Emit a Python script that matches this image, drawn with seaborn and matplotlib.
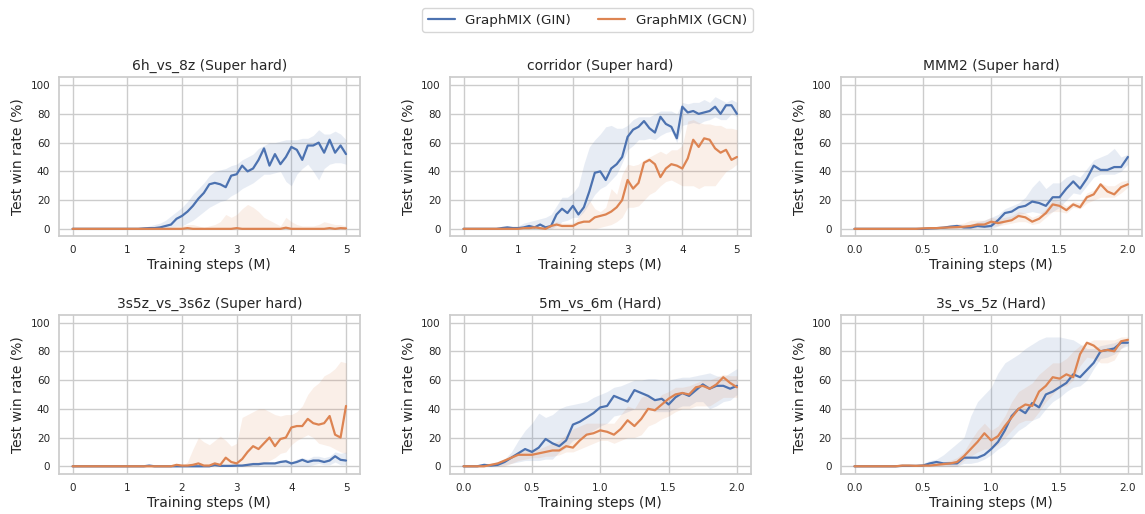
import numpy as np
import pandas as pd
import matplotlib
matplotlib.use("Agg")
import matplotlib.pyplot as plt
from matplotlib.lines import Line2D
import seaborn as sns

# ---------------- data ----------------
methods = ["GraphMIX (GIN)", "GraphMIX (GCN)"]
titles = ["6h_vs_8z (Super hard)", "corridor (Super hard)", "MMM2 (Super hard)",
          "3s5z_vs_3s6z (Super hard)", "5m_vs_6m (Hard)", "3s_vs_5z (Hard)"]

steps_5m = np.round(np.arange(0, 51) * 0.1, 2)   # 0 .. 5 M, every 0.1 M
steps_2m = np.round(np.arange(0, 41) * 0.05, 2)  # 0 .. 2 M, every 0.05 M

# 6h_vs_8z
p1_gin = [0, 0, 0, 0, 0, 0, 0, 0, 0, 0, 0, 0, 0,
          0.3, 0.5, 0.5, 1, 2, 3, 7, 9, 12, 16, 21, 25, 31, 32, 31, 29, 37, 38, 44, 40, 42, 48,
          56, 44, 52, 45, 50, 57, 55, 48, 58, 58, 60, 53, 62, 53, 58, 52]
p1_gin_lo = [0, 0, 0, 0, 0, 0, 0, 0, 0, 0, 0, 0, 0,
             0, 0, 0, 0, 0.5, 1, 2, 2, 4, 6, 9, 12, 15, 17, 19, 20, 23, 25, 28, 30, 32, 35,
             38, 38, 39, 40, 33, 30, 38, 42, 45, 40, 34, 42, 45, 46, 46, 45]
p1_gin_hi = [0, 0, 0, 0, 0, 0, 0, 0, 0, 0, 0, 0, 0,
             1, 2, 3, 4, 6, 9, 12, 15, 19, 24, 28, 32, 37, 40, 41, 42, 44, 45, 48, 50, 52, 56,
             58, 60, 60, 61, 62, 62, 62, 63, 63, 65, 69, 66, 66, 68, 66, 62]
p1_gcn = [0, 0, 0, 0, 0, 0, 0, 0, 0, 0, 0, 0, 0, 0, 0, 0, 0, 0, 0, 0, 0,
          0.5, 0, 0, 0, 0, 0, 0, 0, 0, 0.5, 0, 0, 0, 0, 0, 0, 0, 0, 0.8,
          0, 0, 0, 0, 0, 0, 0, 0.5, 0, 0.5, 0.3]
p1_gcn_lo = [0, 0, 0, 0, 0, 0, 0, 0, 0, 0, 0, 0, 0, 0, 0, 0, 0, 0, 0, 0, 0,
             0, 0, 0, 0, 0, 0, 0, 0, 0, 0, 0, 0, 0, 0, 0, 0, 0, 0, 0,
             0, 0, 0, 0, 0, 0, 0, 0, 0, 0, 0]
p1_gcn_hi = [0, 0, 0, 0, 0, 0, 0, 0, 0, 0, 0, 0, 0, 0, 0, 0,
             0.5, 1, 1, 2, 2, 3, 3, 2, 1, 2, 3, 5, 10, 8, 10, 14, 17, 15, 12, 8, 6, 4, 2, 8,
             5, 3, 2, 2, 2, 3, 5, 4, 3, 3, 2]

# corridor
p2_gin = [0, 0, 0, 0, 0, 0, 0,
          0.5, 1, 0.5, 0.5, 1, 2, 1, 3, 1, 2, 10, 14, 11, 16, 10, 15, 26, 39, 40, 34,
          42, 45, 50, 64, 69, 71, 75, 70, 67, 78, 73, 71, 63, 85, 81, 82, 80, 81, 82, 85,
          80, 86, 86, 80]
p2_gin_lo = [0, 0, 0, 0, 0, 0, 0, 0, 0, 0, 0, 0, 0, 0, 0, 0, 0,
             2, 5, 6, 8, 8, 12, 18, 24, 28, 30, 34, 38, 46, 55, 58, 62, 62, 63, 62, 65,
             67, 68, 60, 72, 73, 74, 73, 75, 76, 78, 76, 76, 80, 78]
p2_gin_hi = [0, 0, 0, 0, 0, 0, 0,
             2, 2, 2, 2, 4, 5, 6, 7, 8, 10, 16, 22, 22, 25, 30, 45, 57, 62, 66, 71,
             72, 70, 70, 72, 76, 78, 78, 78, 80, 82, 82, 82, 80, 88, 87, 88, 88, 90, 88, 92,
             90, 88, 90, 88]
p2_gcn = [0, 0, 0, 0, 0, 0, 0, 0, 0, 0, 0,
          0.5, 0.5, 1, 0.5, 0, 2, 3, 2, 2, 2, 4, 5, 5, 8, 9, 10, 12, 15, 20, 34,
          28, 32, 46, 48, 45, 36, 42, 45, 44, 42, 49, 62, 57, 63, 62, 56, 53, 55, 48, 50]
p2_gcn_lo = [0, 0, 0, 0, 0, 0, 0, 0, 0, 0, 0, 0, 0, 0, 0, 0, 0, 0, 0, 0, 0, 0, 0, 0, 0,
             1, 2, 3, 5, 8, 15, 15, 16, 20, 24, 26, 30, 33, 34, 32, 30, 30, 30, 28, 30,
             30, 30, 35, 40, 42, 45]
p2_gcn_hi = [0, 0, 0, 0, 0, 0, 0, 0, 0, 0, 0, 1, 1, 2, 1, 1,
             3, 5, 4, 4, 4, 8, 14, 20, 14, 12, 15, 28, 24, 38, 45, 44, 45, 48, 50, 52,
             54, 52, 55, 55, 58, 75, 76, 74, 73, 73, 72, 72, 70, 70, 69]

# MMM2
p3_gin = [0, 0, 0, 0, 0, 0, 0, 0, 0, 0, 0,
          0.3, 0.5, 0.8, 1.5, 2, 1, 1, 2, 1.5, 2, 6, 11, 12, 15, 16, 19, 18, 16, 22, 22,
          28, 33, 28, 35, 44, 41, 41, 43, 43, 50]
p3_gin_lo = [0, 0, 0, 0, 0, 0, 0, 0, 0, 0, 0, 0, 0, 0, 0, 0, 0, 0, 0,
             0, 0, 2, 5, 7, 10, 11, 12, 11, 10, 12, 15, 20, 25, 24, 30, 36, 38, 38, 38, 40, 45]
p3_gin_hi = [0, 0, 0, 0, 0, 0, 0, 0, 0, 0, 0,
             0.5, 1, 1.5, 2.5, 3, 2, 3, 5, 6, 8, 10, 14, 16, 18, 22, 29, 34, 28, 32, 32,
             36, 38, 36, 42, 48, 50, 52, 56, 50, 52]
p3_gcn = [0, 0, 0, 0, 0, 0, 0, 0, 0, 0,
          0.3, 0.5, 0.5, 0.8, 1, 1.2, 1.5, 2, 3, 3, 5, 4, 5, 6, 9, 8, 5, 7, 11, 17,
          16, 13, 17, 15, 22, 24, 31, 26, 24, 29, 31]
p3_gcn_lo = [0, 0, 0, 0, 0, 0, 0, 0, 0, 0, 0, 0, 0, 0, 0, 0, 0, 0,
             1, 1, 2, 2, 3, 4, 5, 5, 3, 4, 8, 12, 12, 11, 15, 14, 18, 20, 22, 22, 22, 25, 29]
p3_gcn_hi = [0, 0, 0, 0, 0, 0, 0, 0, 0, 0,
             1, 1, 1.5, 2, 3, 3.5, 4, 6, 6, 6, 8, 7, 8, 9, 12, 11, 8, 10, 14, 20,
             19, 16, 19, 18, 25, 27, 32, 30, 30, 33, 34]

# 3s5z_vs_3s6z
p4_gin = [0, 0, 0, 0, 0, 0, 0, 0, 0, 0, 0, 0, 0, 0, 0.5,
          0, 0, 0, 0, 0, 0, 0, 0, 0, 0, 0,
          1, 0.3, 0.3, 0.3, 0.5, 0.5, 1, 1.5, 1.5, 2, 2, 2, 3, 3.5, 2, 3, 4.5, 3, 4, 4,
          3, 4, 7, 4.5, 4]
p4_gin_lo = [0, 0, 0, 0, 0, 0, 0, 0, 0, 0, 0, 0, 0, 0, 0, 0, 0, 0, 0, 0, 0, 0,
             0, 0, 0, 0, 0, 0, 0, 0, 0, 0, 0, 0, 0, 0, 0, 0, 0, 0, 0, 0, 0, 0,
             1, 2, 1, 1, 3, 1, 1]
p4_gin_hi = [0, 0, 0, 0, 0, 0, 0, 0, 0, 0, 0, 0, 0, 0, 1,
             0, 0, 0, 0, 0, 0, 0, 0, 0, 0, 0,
             2, 1, 1, 1, 1, 1, 2, 3, 3, 3, 3, 3, 4, 5, 3, 5, 6, 5, 7, 7, 6, 7, 10, 9, 10]
p4_gcn = [0, 0, 0, 0, 0, 0, 0, 0, 0, 0, 0, 0, 0, 0, 0, 0, 0, 0, 0,
          1, 0.5, 0.5, 1, 2, 0.5, 0.5, 2, 1, 6, 3, 2, 5, 10, 14, 12, 16, 20, 14, 19,
          20, 27, 28, 28, 33, 30, 29, 30, 35, 22, 20, 42]
p4_gcn_lo = [0, 0, 0, 0, 0, 0, 0, 0, 0, 0, 0, 0, 0, 0, 0, 0, 0, 0, 0, 0, 0, 0, 0, 0, 0,
             0, 0, 0, 0, 0, 0, 0, 0, 1, 1, 2,
             4, 6, 9, 10, 15, 18, 20, 22, 20, 16, 15, 14, 12, 10, 9]
p4_gcn_hi = [0, 0, 0, 0, 0, 0, 0, 0, 0, 0, 0, 0, 0, 0, 0, 0, 0, 0, 0, 0, 0,
             3, 12, 20, 17, 15, 18, 21, 18, 14, 16, 34, 36, 38, 40, 40, 38, 36, 35, 36,
             36, 38, 42, 50, 55, 58, 63, 65, 68, 73, 72]

# 5m_vs_6m
p5_gin = [0, 0, 0, 1, 0.5, 1, 3, 6, 9, 12, 10, 13, 19, 16, 14, 18, 29, 31, 34, 37,
          41, 42, 49, 47, 45, 53, 51, 49, 46, 47, 43, 48, 51, 49, 53, 57, 54, 56, 56, 54, 56]
p5_gin_lo = [0, 0, 0, 0, 0, 0,
             1, 2, 3, 4, 4, 4, 5, 5, 10, 13, 18, 20, 22, 25, 28, 30, 35, 36, 38, 40,
             40, 40, 38, 38, 38, 40, 42, 42, 45, 45, 40, 42, 45, 46, 50]
p5_gin_hi = [0, 0, 0,
             2, 2, 3, 5, 10, 18, 25, 30, 37, 34, 36, 40, 42, 43, 44, 45, 48, 50, 52, 55,
             56, 58, 60, 60, 61, 61, 60, 60, 61, 62, 62, 63, 64, 65, 63, 62, 65, 68]
p5_gcn = [0, 0, 0, 0,
          1, 2, 4, 6, 8, 8, 8, 9, 10, 11, 11, 14, 13, 18, 22, 23, 25, 24, 22, 26,
          32, 28, 33, 40, 39, 43, 47, 50, 51, 50, 55, 56, 54, 57, 62, 58, 55]
p5_gcn_lo = [0, 0, 0, 0, 0, 0, 0,
             2, 4, 5, 6, 6, 7, 7, 8, 10, 10, 12, 14, 16, 18, 18, 16, 18, 20, 20, 22,
             28, 30, 33, 35, 38, 40, 40, 42, 42, 42, 45, 48, 48, 48]
p5_gcn_hi = [0, 0, 0, 0,
             2, 3, 5, 8, 10, 11, 12, 12, 14, 16, 18, 22, 26, 28, 30, 30, 30, 30, 30, 36,
             42, 40, 48, 50, 45, 50, 52, 55, 55, 56, 58, 60, 60, 62, 64, 63, 63]

# 3s_vs_5z
p6_gin = [0, 0, 0, 0, 0, 0, 0,
          0.3, 0.3, 0.3, 0.5, 2, 3, 2, 2, 2, 6, 6, 6, 8, 12, 17, 25, 35, 40, 37, 44,
          41, 50, 52, 55, 58, 64, 62, 67, 72, 80, 81, 82, 86, 86]
p6_gin_lo = [0, 0, 0, 0, 0, 0, 0, 0, 0, 0, 0, 0, 0, 0, 0, 0,
             2, 2, 3, 5, 8, 12, 15, 20, 25, 28, 32, 34, 40, 45, 48, 52, 55, 56, 60, 68,
             75, 76, 78, 82, 84]
p6_gin_hi = [0, 0, 0, 0, 0, 0, 0, 0.5, 1, 1, 2,
             4, 5, 8, 12, 16, 20, 35, 45, 50, 55, 65, 72, 75, 78, 82, 85, 88, 90, 90, 90,
             89, 88, 85, 82, 82, 84, 85, 86, 88, 88]
p6_gcn = [0, 0, 0, 0, 0, 0, 0,
          0.5, 0.5, 0.3, 0.5, 0.5, 1, 1.5, 2, 3, 7, 12, 17, 23, 18, 21, 28, 34, 40, 43,
          42, 52, 56, 62, 61, 64, 62, 78, 86, 84, 80, 81, 80, 87, 88]
p6_gcn_lo = [0, 0, 0, 0, 0, 0, 0, 0, 0, 0, 0, 0, 0, 0, 0, 0,
             4, 7, 10, 12, 12, 15, 20, 25, 30, 32, 32, 38, 45, 50, 55, 56, 60, 70, 76, 75,
             72, 72, 74, 82, 86]
p6_gcn_hi = [0, 0, 0, 0, 0, 0, 0, 1, 1, 1, 1,
             1, 2, 3, 4, 6, 10, 18, 25, 30, 25, 28, 35, 45, 52, 55, 58, 64, 68, 72, 72,
             75, 80, 84, 86, 88, 88, 88, 88, 90, 90]

panels = [
    (steps_5m, (p1_gin, p1_gin_lo, p1_gin_hi), (p1_gcn, p1_gcn_lo, p1_gcn_hi), [0, 1, 2, 3, 4, 5]),
    (steps_5m, (p2_gin, p2_gin_lo, p2_gin_hi), (p2_gcn, p2_gcn_lo, p2_gcn_hi), [0, 1, 2, 3, 4, 5]),
    (steps_2m, (p3_gin, p3_gin_lo, p3_gin_hi), (p3_gcn, p3_gcn_lo, p3_gcn_hi), [0.0, 0.5, 1.0, 1.5, 2.0]),
    (steps_5m, (p4_gin, p4_gin_lo, p4_gin_hi), (p4_gcn, p4_gcn_lo, p4_gcn_hi), [0, 1, 2, 3, 4, 5]),
    (steps_2m, (p5_gin, p5_gin_lo, p5_gin_hi), (p5_gcn, p5_gcn_lo, p5_gcn_hi), [0.0, 0.5, 1.0, 1.5, 2.0]),
    (steps_2m, (p6_gin, p6_gin_lo, p6_gin_hi), (p6_gcn, p6_gcn_lo, p6_gcn_hi), [0.0, 0.5, 1.0, 1.5, 2.0]),
]

# ---------------- plot ----------------
sns.set_theme(style="whitegrid")
plt.rcParams["font.family"] = ["DejaVu Sans"]
palette = sns.color_palette("deep")
colors = [palette[0], palette[1]]

fig, axes = plt.subplots(2, 3, figsize=(11.45, 5.14), dpi=100)
fig.subplots_adjust(left=0.0515, right=0.997, top=0.85, bottom=0.078,
                    wspace=0.3, hspace=0.49)

for ax, title, (steps, gin, gcn, xt) in zip(axes.flat, titles, panels):
    frames = []
    for name, (mean, lo, hi) in zip(methods, [gin, gcn]):
        frames.append(pd.DataFrame({"step": steps, "win": mean, "lo": lo, "hi": hi,
                                    "method": name}))
    df = pd.concat(frames, ignore_index=True)
    for name, col in zip(methods, colors):
        sub = df[df["method"] == name]
        ax.fill_between(sub["step"], sub["lo"], sub["hi"], color=col, alpha=0.13,
                        linewidth=0)
    sns.lineplot(data=df, x="step", y="win", hue="method", hue_order=methods,
                 palette=colors, ax=ax, legend=False, errorbar=None, linewidth=1.6)
    ax.set_ylim(-5.3, 105.6)
    ax.set_xticks(xt)
    if isinstance(xt[1], float):
        ax.set_xticklabels([f"{v:.1f}" for v in xt])
    ax.set_yticks([0, 20, 40, 60, 80, 100])
    ax.set_title(title, fontsize=10, pad=5)
    ax.set_xlabel("Training steps (M)", fontsize=10, labelpad=2)
    ax.set_ylabel("Test win rate (%)", fontsize=10, labelpad=4)
    ax.tick_params(labelsize=7.5, length=0, pad=6.5)

handles = [Line2D([0], [0], color=c, lw=1.6) for c in colors]
fig.legend(handles, methods, loc="upper center", bbox_to_anchor=(0.513, 0.997),
           ncol=2, fontsize=9.7, frameon=True)

fig.savefig("out.png", dpi=100)
